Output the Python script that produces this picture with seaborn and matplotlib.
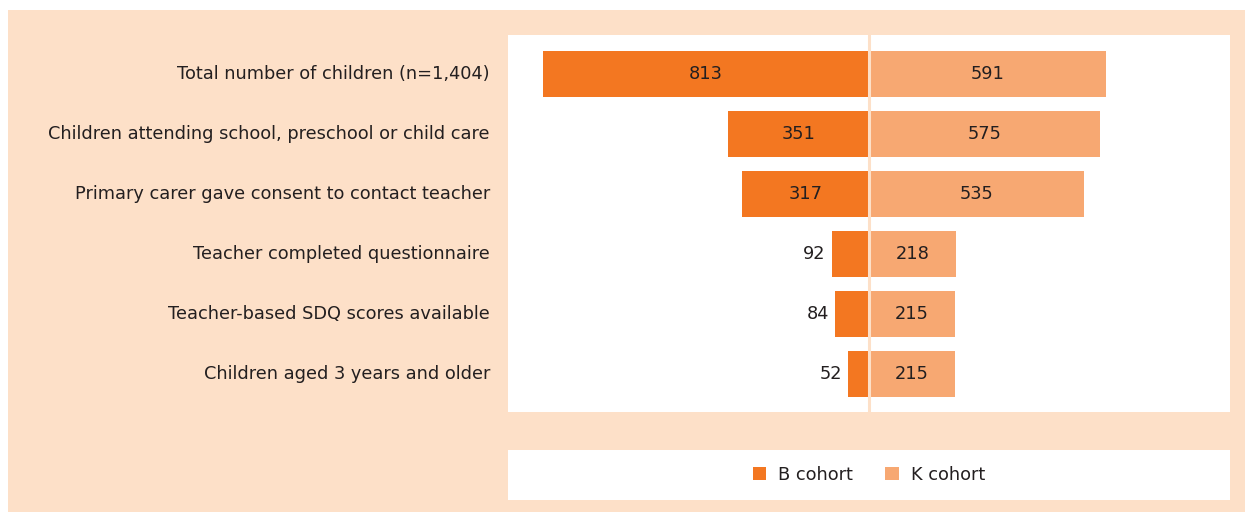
import pandas as pd
import matplotlib
matplotlib.use("Agg")
import matplotlib.pyplot as plt
import seaborn as sns
from matplotlib.patches import Rectangle

categories = [
    "Total number of children (n=1,404)",
    "Children attending school, preschool or child care",
    "Primary carer gave consent to contact teacher",
    "Teacher completed questionnaire",
    "Teacher-based SDQ scores available",
    "Children aged 3 years and older",
]
b_cohort = [813, 351, 317, 92, 84, 52]
k_cohort = [591, 575, 535, 218, 215, 215]
cohorts = ["B cohort", "K cohort"]

PEACH = "#FDE0C8"
DARK = "#F37721"
LIGHT = "#F7A872"
TEXT = "#231F20"

W, H = 1245, 512

# long form: B cohort drawn to the left (negative), K cohort to the right
df = pd.DataFrame({
    "category": categories * 2,
    "cohort": [cohorts[0]] * len(categories) + [cohorts[1]] * len(categories),
    "value": b_cohort + k_cohort,
})
df["signed"] = df["value"].where(df["cohort"] == cohorts[1], -df["value"])

sns.set_style("white")
plt.rcParams["font.family"] = ["DejaVu Sans"]

fig = plt.figure(figsize=(W / 100, H / 100), dpi=100)
fig.patch.set_facecolor("white")
fig.patches.append(Rectangle((8 / W, 0), 1 - 8 / W, 1 - 10 / H,
                             transform=fig.transFigure, facecolor=PEACH,
                             edgecolor="none", zorder=-10))

ax = fig.add_axes([508 / W, 1 - 412 / H, 722 / W, 377 / H])
ax.set_facecolor("white")
sns.barplot(data=df, y="category", x="signed", hue="cohort", orient="h",
            dodge=False, width=0.77, palette=[DARK, LIGHT],
            order=categories, hue_order=cohorts, legend=False, ax=ax,
            saturation=1, linewidth=0)

ax.set_xlim(-900, 900)
ax.set_ylim(5.64, -0.65)
ax.axvline(0, color=PEACH, lw=2.2, zorder=5)

for i, (b, k) in enumerate(zip(b_cohort, k_cohort)):
    if b > 200:
        ax.text(-b / 2, i, str(b), ha="center", va="center", fontsize=12.8, color=TEXT)
    else:
        ax.text(-b - 16, i, str(b), ha="right", va="center", fontsize=12.8, color=TEXT)
    ax.text(k / 2, i, str(k), ha="center", va="center", fontsize=12.8, color=TEXT)

ax.set_xlabel("")
ax.set_ylabel("")
ax.set_xticks([])
ax.tick_params(axis="y", length=0, pad=13, labelsize=12.8, labelcolor=TEXT)
for lbl in ax.get_yticklabels():
    lbl.set_verticalalignment("center")
for s in ax.spines.values():
    s.set_visible(False)

# legend panel
lax = fig.add_axes([508 / W, 1 - 500 / H, 722 / W, 50 / H])
lax.set_facecolor("white")
lax.set_xticks([])
lax.set_yticks([])
for s in lax.spines.values():
    s.set_visible(False)
handles = [Rectangle((0, 0), 1, 1, facecolor=c, edgecolor="none") for c in [DARK, LIGHT]]
lax.legend(handles, cohorts, loc="center", ncol=2, frameon=False, fontsize=12.8,
           handlelength=0.75, handleheight=0.75, handletextpad=0.7, columnspacing=1.8,
           labelcolor=TEXT)

fig.savefig("out.png", dpi=100, facecolor=fig.get_facecolor())
